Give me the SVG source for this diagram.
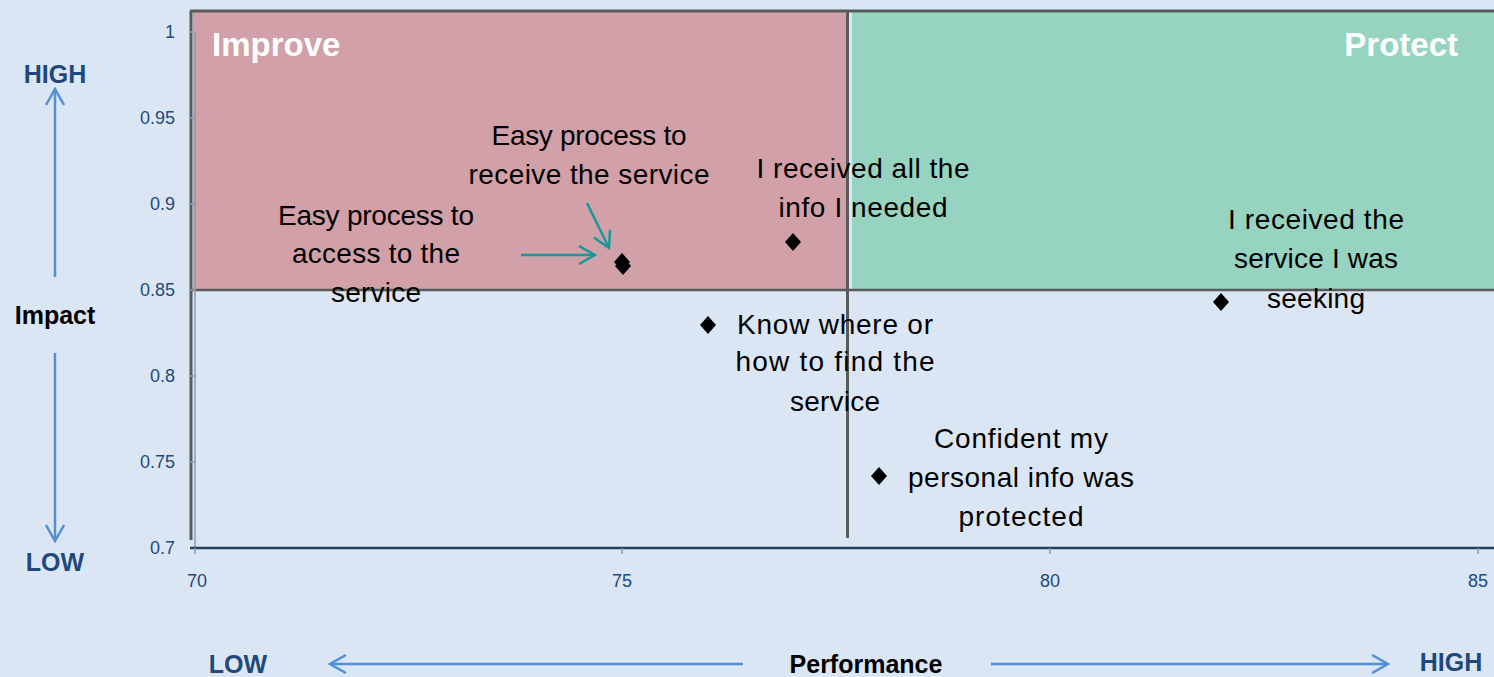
<svg xmlns="http://www.w3.org/2000/svg" width="1494" height="677" viewBox="0 0 1494 677">
<style>
.bg{fill:#DBE6F4}
.lbl{font-family:"Liberation Sans",Arial,sans-serif;font-size:28px;fill:#000;text-anchor:middle}
.tick{font-family:"Liberation Sans",Arial,sans-serif;font-size:18px;fill:#1F497D}
.ax{font-family:"Liberation Sans",Arial,sans-serif;font-size:25px;font-weight:bold;fill:#1F497D;text-anchor:middle}
.axb{font-family:"Liberation Sans",Arial,sans-serif;font-size:25px;font-weight:bold;fill:#000;text-anchor:middle}
.quad{font-family:"Liberation Sans",Arial,sans-serif;font-size:33px;font-weight:bold;fill:#fff}
.blue{stroke:#558ED5;stroke-width:2.5;fill:none}
.teal{stroke:#17989A;stroke-width:2.5;fill:none}
.grid{stroke:#5A5A5A;fill:none}
.pt{fill:#000}
</style>
<defs>
<marker id="openB" viewBox="0 0 20 20" refX="18" refY="10" markerWidth="20" markerHeight="20" markerUnits="userSpaceOnUse" orient="auto">
<path d="M2,1 L18,10 L2,19" fill="none" stroke="#558ED5" stroke-width="2.5"/>
</marker>
<marker id="openT" viewBox="0 0 20 20" refX="18" refY="10" markerWidth="20" markerHeight="20" markerUnits="userSpaceOnUse" orient="auto">
<path d="M2,1 L18,10 L2,19" fill="none" stroke="#17989A" stroke-width="2.5"/>
</marker>
<path id="dia" d="M0,-9 L8,0 L0,9 L-8,0 Z"/>
</defs>
<rect class="bg" x="0" y="0" width="1494" height="677"/>
<g id="quadrants">
<rect x="193" y="12" width="653" height="277" fill="#D2A0A8"/>
<rect x="852" y="12" width="642" height="277" fill="#96D4C1"/>
<line class="grid" x1="190" y1="11" x2="1494" y2="11" stroke-width="3"/>
<line class="grid" x1="191" y1="11" x2="191" y2="540" stroke-width="3"/>
<line class="grid" x1="847.5" y1="11" x2="847.5" y2="538" stroke-width="3"/>
<line class="grid" x1="192" y1="290" x2="1494" y2="290" stroke-width="2.5"/>
<text class="quad" x="212" y="56">Improve</text>
<text class="quad" x="1458" y="56" text-anchor="end">Protect</text>
</g>
<g id="axes">
<line x1="195" y1="32" x2="195" y2="548" stroke="#8E9BAE" stroke-width="1.5"/>
<line x1="190" y1="548" x2="1494" y2="548" stroke="#243F60" stroke-width="2.5"/>
<g stroke="#8E9BAE" stroke-width="1.5">
<line x1="189" y1="32" x2="195" y2="32"/><line x1="189" y1="118" x2="195" y2="118"/><line x1="189" y1="204" x2="195" y2="204"/><line x1="189" y1="290" x2="195" y2="290"/><line x1="189" y1="376" x2="195" y2="376"/><line x1="189" y1="462" x2="195" y2="462"/>
<line x1="195" y1="548" x2="195" y2="554"/><line x1="622" y1="548" x2="622" y2="554"/><line x1="1050" y1="548" x2="1050" y2="554"/><line x1="1478" y1="548" x2="1478" y2="554"/>
</g>
<g class="tick" text-anchor="end">
<text x="175" y="38">1</text>
<text x="175" y="124">0.95</text>
<text x="175" y="210">0.9</text>
<text x="175" y="296">0.85</text>
<text x="175" y="382">0.8</text>
<text x="175" y="468">0.75</text>
<text x="175" y="554">0.7</text>
</g>
<g class="tick" text-anchor="middle">
<text x="197" y="587">70</text>
<text x="622" y="587">75</text>
<text x="1050" y="587">80</text>
<text x="1478" y="587">85</text>
</g>
</g>
<g id="axis-titles">
<text class="ax" x="55" y="83">HIGH</text>
<text class="axb" x="55" y="324">Impact</text>
<text class="ax" x="55" y="571">LOW</text>
<text class="ax" x="238" y="673">LOW</text>
<text class="axb" x="866" y="673">Performance</text>
<text class="ax" x="1451" y="671">HIGH</text>
</g>
<g id="connectors">
<line class="blue" x1="55" y1="277" x2="55" y2="89" marker-end="url(#openB)"/>
<line class="blue" x1="55" y1="353" x2="55" y2="541" marker-end="url(#openB)"/>
<line class="blue" x1="743" y1="664" x2="330" y2="664" marker-end="url(#openB)"/>
<line class="blue" x1="991" y1="664" x2="1388" y2="664" marker-end="url(#openB)"/>
<line class="teal" x1="521" y1="255" x2="595" y2="255" marker-end="url(#openT)"/>
<line class="teal" x1="587" y1="203" x2="609" y2="248" marker-end="url(#openT)"/>
</g>
<g id="points">
<use href="#dia" class="pt" x="622" y="262"/>
<use href="#dia" class="pt" x="623" y="266"/>
<use href="#dia" class="pt" x="793" y="242"/>
<use href="#dia" class="pt" x="708" y="325"/>
<use href="#dia" class="pt" x="879" y="476"/>
<use href="#dia" class="pt" x="1221" y="302"/>
</g>
<g id="labels">
<text class="lbl" x="589" y="145" textLength="195">Easy process to</text>
<text class="lbl" x="589" y="184" textLength="241">receive the service</text>
<text class="lbl" x="863" y="178" textLength="213">I received all the</text>
<text class="lbl" x="863" y="217" textLength="169">info I needed</text>
<text class="lbl" x="376" y="225" textLength="196">Easy process to</text>
<text class="lbl" x="376" y="263" textLength="168">access to the</text>
<text class="lbl" x="376" y="302" textLength="90">service</text>
<text class="lbl" x="1316" y="229" textLength="176">I received the</text>
<text class="lbl" x="1316" y="268" textLength="164">service I was</text>
<text class="lbl" x="1316" y="308" textLength="98">seeking</text>
<text class="lbl" x="835" y="334" textLength="196">Know where or</text>
<text class="lbl" x="835" y="371" textLength="199">how to find the</text>
<text class="lbl" x="835" y="411" textLength="90">service</text>
<text class="lbl" x="1021" y="448" textLength="174">Confident my</text>
<text class="lbl" x="1021" y="487" textLength="226">personal info was</text>
<text class="lbl" x="1021" y="526" textLength="125">protected</text>
</g>
</svg>
